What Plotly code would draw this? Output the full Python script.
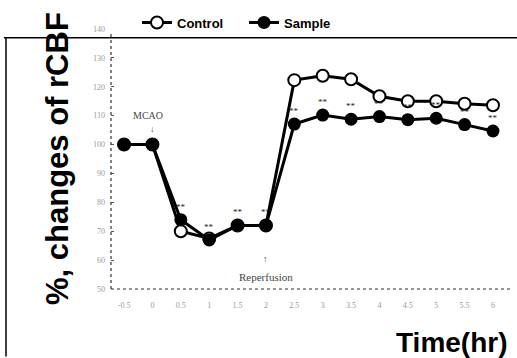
import plotly.graph_objects as go

time_labels = ["-0.5", "0", "0.5", "1", "1.5", "2", "2.5", "3", "3.5", "4", "4.5", "5", "5.5", "6"]
control = [100, 100, 70, 67.5, 72, 72, 122.3, 123.8, 122.6, 116.7, 115, 115, 114.1, 113.6]
sample = [100, 100, 74, 67, 72, 72, 107.1, 110.2, 108.8, 109.7, 108.6, 109.1, 106.9, 104.7]
sig_labels = ["", "", "**", "**", "**", "**", "**", "**", "**", "**", "**", "**", "**", "**"]
y_ticks = [50, 60, 70, 80, 90, 100, 110, 120, 130, 140]

xs = list(range(len(time_labels)))

fig = go.Figure()
fig.add_trace(go.Scatter(
    x=xs, y=control, name="Control", mode="lines+markers",
    line=dict(color="black", width=3),
    marker=dict(symbol="circle", size=12, color="white", line=dict(color="black", width=2)),
))
fig.add_trace(go.Scatter(
    x=xs, y=sample, name="Sample", mode="lines+markers",
    line=dict(color="black", width=3),
    marker=dict(symbol="circle", size=13, color="black"),
))

for xi, yi, s in zip(xs, sample, sig_labels):
    if s:
        fig.add_annotation(x=xi, y=yi, text=s, showarrow=False, yshift=13,
                           font=dict(size=9, color="#222", family="Liberation Serif"))

fig.add_annotation(x=0.85, y=110, text="MCAO", showarrow=False,
                   font=dict(size=10, color="#444", family="Liberation Serif"))
fig.add_annotation(x=1, y=105.5, text="↓", showarrow=False,
                   font=dict(size=9, color="#444", family="Liberation Serif"))
fig.add_annotation(x=5, y=60.5, text="↑", showarrow=False,
                   font=dict(size=9, color="#444", family="Liberation Serif"))
fig.add_annotation(x=5, y=54, text="Reperfusion", showarrow=False,
                   font=dict(size=11, color="#444", family="Liberation Serif"))

L, R, T, B = 111, 7, 23, 69
W, H = 517, 358
pw, ph = W - L - R, H - T - B

def px(xp):
    return (xp - L) / pw

def py(yp):
    return (H - B - yp) / ph

shapes = [
    dict(type="line", xref="paper", yref="paper", x0=0, x1=1, y0=0, y1=0,
         line=dict(color="#333", width=1.2, dash="dot")),
    dict(type="line", xref="paper", yref="paper", x0=0, x1=0, y0=0, y1=py(28),
         line=dict(color="#333", width=1.2, dash="dot")),
    dict(type="line", xref="paper", yref="paper", x0=px(4), x1=px(517), y0=py(32), y1=py(32),
         line=dict(color="black", width=1.5)),
    dict(type="line", xref="paper", yref="paper", x0=px(6), x1=px(6), y0=py(32), y1=py(358),
         line=dict(color="black", width=1.5)),
]

fig.add_annotation(xref="paper", yref="paper", x=px(57), y=py(156),
                   xanchor="center", yanchor="middle",
                   text="<b>%, changes of rCBF</b>", textangle=-90, showarrow=False,
                   font=dict(size=31, color="black", family="Liberation Sans"))
fig.add_annotation(xref="paper", yref="paper", x=px(452), y=py(344),
                   xanchor="center", yanchor="middle",
                   text="<b>Time(hr)</b>", showarrow=False,
                   font=dict(size=28, color="black", family="Liberation Sans Narrow, Liberation Sans"))

fig.update_layout(
    width=W, height=H,
    margin=dict(l=L, r=R, t=T, b=B),
    paper_bgcolor="white", plot_bgcolor="white",
    shapes=shapes,
    showlegend=True,
    legend=dict(orientation="h", x=px(137), y=py(1), xanchor="left", yanchor="top",
                font=dict(size=13, color="black", family="Liberation Sans", weight="bold"),
                bgcolor="rgba(0,0,0,0)", itemwidth=30, entrywidth=62, entrywidthmode="pixels",
                tracegroupgap=0),
    xaxis=dict(range=[-0.46, 13.6], tickmode="array", tickvals=xs, ticktext=time_labels,
               showgrid=False, zeroline=False, showline=False, ticks="",
               ticklabelstandoff=10,
               tickfont=dict(size=8, color="#999", family="Liberation Serif")),
    yaxis=dict(range=[50, 140], tickmode="array", tickvals=y_ticks,
               showgrid=False, zeroline=False, showline=False, ticks="inside", ticklen=3,
               tickcolor="#555", ticklabelstandoff=5,
               tickfont=dict(size=8, color="#999", family="Liberation Serif")),
)

fig.write_html("out.html")
